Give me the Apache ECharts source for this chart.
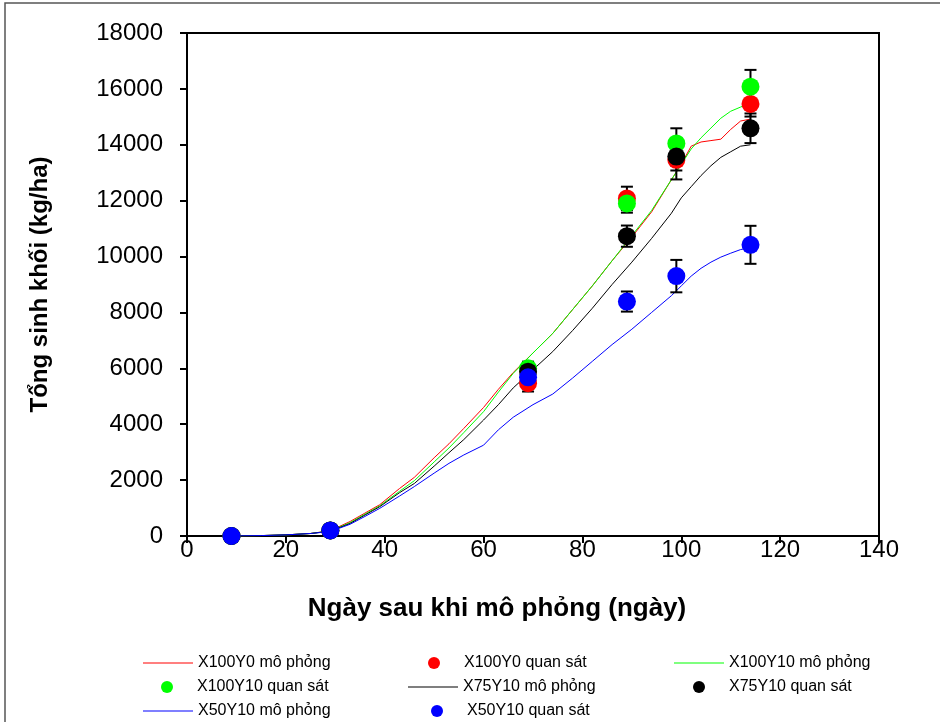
<!DOCTYPE html>
<html><head><meta charset="utf-8">
<script src="https://cdn.jsdelivr.net/npm/echarts@6/dist/echarts.min.js"></script>
<style>html,body{margin:0;padding:0;background:#fff}#c{width:940px;height:722px}</style>
</head><body><div id="c"></div>
<script>
const simDays = [9,15,20,25,29,33,36,39,43,46,50,53,56,60,63,66,70,74,78,82,86,90,94,98,100,102,104,106,108,110,112,114];
const simX100Y0  = [0,15,40,90,190,520,820,1120,1700,2100,2800,3300,3850,4600,5250,5850,6550,7250,8100,8950,9850,10700,11600,12750,13300,13950,14100,14150,14200,14550,14850,14920];
const simX100Y10 = [0,15,40,90,180,480,780,1080,1600,1980,2650,3150,3700,4450,5150,5820,6550,7250,8100,8950,9850,10750,11650,12750,13300,13850,14250,14600,14950,15200,15350,15500];
const simX75Y10  = [0,15,40,90,170,450,750,1050,1550,1880,2500,2980,3450,4150,4700,5300,5950,6600,7350,8150,9000,9800,10650,11550,12100,12500,12900,13250,13550,13750,13950,14000];
const simX50Y10  = [0,15,40,90,160,420,700,990,1430,1770,2250,2600,2900,3250,3800,4250,4700,5080,5650,6250,6850,7400,8000,8600,8950,9300,9580,9800,9980,10120,10250,10320];

const obsDays = [9,29,69,89,99,114];
const obsX100Y0  = [0,200,5470,12080,13460,15460];
const errX100Y0  = [0,0,300,420,700,450];
const obsX100Y10 = [0,200,6000,11900,14050,16080];
const errX100Y10 = [0,0,240,330,540,600];
const obsX75Y10  = [0,200,5880,10730,13580,14590];
const errX75Y10  = [0,0,200,380,500,530];
const obsX50Y10  = [0,200,5680,8390,9300,10420];
const errX50Y10  = [0,0,150,360,580,680];

const seriesNames = ['X100Y0','X100Y10','X75Y10','X50Y10'];
const colors = ['#ff0000','#00ff00','#000000','#0000ff'];
const sims = [simX100Y0, simX100Y10, simX75Y10, simX50Y10];
const obs = [obsX100Y0, obsX100Y10, obsX75Y10, obsX50Y10];
const errs = [errX100Y0, errX100Y10, errX75Y10, errX50Y10];

const font = '"Liberation Sans", Arial, sans-serif';
const chart = echarts.init(document.getElementById('c'), null, {renderer:'canvas'});

const series = [];
sims.forEach((s,i)=>{
  series.push({name: seriesNames[i]+' mô phỏng', type:'line', symbol:'none', z:2,
    data: simDays.map((d,j)=>[d,s[j]]), lineStyle:{color:colors[i], width:1}, itemStyle:{color:colors[i]}});
});
obs.forEach((o,i)=>{
  series.push({name: seriesNames[i]+' err', type:'custom', z:3,
    data: obsDays.map((d,j)=>[d,o[j],errs[i][j]]),
    encode:{x:0,y:1},
    renderItem:function(params, api){
      const x=api.value(0), y=api.value(1), e=api.value(2);
      if(!e) return null;
      const t=api.coord([x,y+e]), b=api.coord([x,y-e]);
      const hw=6, st={stroke:'#000', lineWidth:2};
      return {type:'group', children:[
        {type:'line', shape:{x1:t[0],y1:t[1],x2:b[0],y2:b[1]}, style:st},
        {type:'line', shape:{x1:t[0]-hw,y1:t[1],x2:t[0]+hw,y2:t[1]}, style:st},
        {type:'line', shape:{x1:b[0]-hw,y1:b[1],x2:b[0]+hw,y2:b[1]}, style:st}
      ]};
    }});
});
obs.forEach((o,i)=>{
  series.push({name: seriesNames[i]+' quan sát', type:'scatter', z:4, symbolSize:18,
    data: obsDays.map((d,j)=>[d,o[j]]), itemStyle:{color:colors[i], opacity:1}});
});

// [name, left, top, isLine]
const legendPos = [
  ['X100Y0 mô phỏng',143,655,true],['X100Y0 quan sát',428,655,false],['X100Y10 mô phỏng',674,655,true],
  ['X100Y10 quan sát',161,679,false],['X75Y10 mô phỏng',408,679,true],['X75Y10 quan sát',693,679,false],
  ['X50Y10 mô phỏng',143,703,true],['X50Y10 quan sát',431,703,false]
];
const legends = legendPos.map(p=>({
  data:[p[3] ? {name:p[0], icon:'rect'} : {name:p[0], icon:'circle'}],
  left:p[1], top:p[2], padding:0, itemWidth:50, itemHeight:p[3]?1:12,
  textStyle:{fontFamily:font, fontSize:16, color:'#000'}, selectedMode:false}));

chart.setOption({
  animation:false,
  backgroundColor:'#fff',
  graphic:[{type:'rect', shape:{x:5,y:3,width:1000,height:800}, style:{fill:'none', stroke:'#555', lineWidth:1.5}}],
  grid:{left:187, right:61, top:33, bottom:186, show:true, borderColor:'#000', borderWidth:2},
  legend: legends,
  xAxis:{type:'value', min:0, max:140, interval:20,
    name:'Ngày sau khi mô phỏng (ngày)', nameLocation:'middle', nameGap:60,
    nameTextStyle:{fontFamily:font, fontSize:26, fontWeight:'bold', color:'#000', padding:[0,72,0,0]},
    axisLine:{show:true, onZero:false, lineStyle:{color:'#000', width:2}},
    axisTick:{show:true, inside:false, length:7, lineStyle:{color:'#000', width:2}},
    axisLabel:{fontFamily:font, fontSize:24, color:'#000', margin:2},
    splitLine:{show:false}},
  yAxis:{type:'value', min:0, max:18000, interval:2000,
    name:'Tổng sinh khối (kg/ha)', nameLocation:'middle', nameGap:135,
    nameTextStyle:{fontFamily:font, fontSize:24, fontWeight:'bold', color:'#000'},
    axisLine:{show:true, onZero:false, lineStyle:{color:'#000', width:2}},
    axisTick:{show:true, inside:false, length:7, lineStyle:{color:'#000', width:2}},
    axisLabel:{fontFamily:font, fontSize:24, color:'#000', margin:24, formatter:function(v){return String(v);}},
    splitLine:{show:false}},
  series: series
});
</script></body></html>
